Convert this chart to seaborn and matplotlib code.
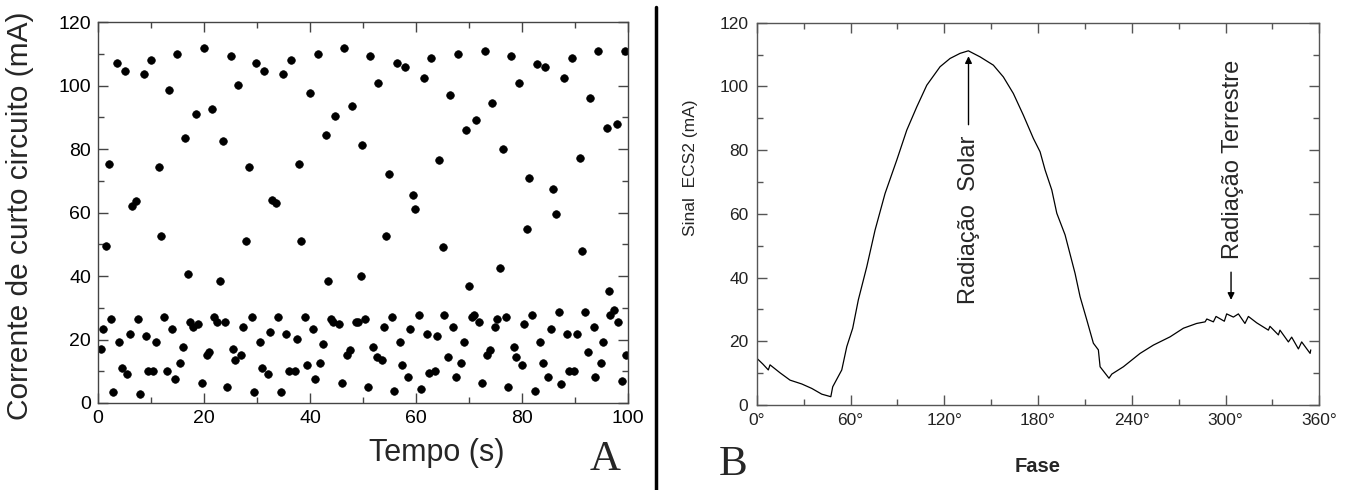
import matplotlib
matplotlib.use("Agg")
import matplotlib.pyplot as plt
from matplotlib.lines import Line2D
from matplotlib.ticker import MultipleLocator
import seaborn as sns
import pandas as pd

# Panel A: short-circuit current samples
tempo = [
    2.1, 3.5, 5.0, 6.5, 7.1, 8.6, 10.0, 11.5, 13.4, 14.9, 16.5, 18.5, 20.0, 21.5, 23.5, 25.0,
    26.5, 28.4, 29.9, 31.4, 32.8, 33.5, 34.9, 36.4, 37.9, 40.0, 41.5, 43.0, 44.8, 46.4, 47.9,
    49.9, 51.4, 52.9, 54.9, 56.5, 58.0, 59.4, 59.9, 61.5, 62.8, 64.4, 66.4, 67.9, 69.4, 71.4,
    73.0, 74.4, 76.4, 77.9, 79.4, 81.4, 82.9, 84.4, 85.8, 86.4, 87.9, 89.4, 90.9, 92.9, 94.4,
    96.0, 97.9, 99.4,
    1.5, 11.9, 16.9, 23.0, 27.9, 38.3, 43.3, 49.6, 54.3, 65.0, 70.0, 75.9, 81.0, 91.4, 96.4,
    0.5, 1.0, 2.4, 2.9, 4.0, 4.5, 5.5, 6.0, 7.5, 7.9, 9.0, 9.5, 10.4, 10.9, 12.5, 13.0, 14.0,
    14.5, 15.5, 16.0, 17.4, 18.0, 18.9, 19.6, 20.5, 21.0, 21.9, 22.5, 24.0, 24.4, 25.4, 25.9,
    26.9, 27.4, 29.1, 29.4, 30.6, 30.9, 32.1, 32.5, 33.9, 34.5, 35.5, 36.0, 37.1, 37.5, 39.0,
    39.4, 40.5, 40.9, 41.9, 42.4, 43.9, 44.4, 45.5, 46.0, 47.0, 47.5, 48.6, 49.1, 50.4, 51.0,
    51.9, 52.6, 53.5, 54.0, 55.5, 55.8, 57.0, 57.4, 58.4, 58.9, 60.5, 60.9, 62.0, 62.5, 63.5,
    63.9, 65.3, 66.0, 66.9, 67.5, 68.5, 69.0, 70.5, 70.9, 71.9, 72.5, 73.4, 74.0, 74.9, 75.3,
    76.9, 77.4, 78.4, 78.9, 80.0, 80.3, 81.9, 82.5, 83.4, 83.9, 85.0, 85.4, 87.0, 87.3, 88.4,
    88.8, 89.9, 90.4, 91.9, 92.4, 93.5, 93.8, 94.9, 95.3, 96.7, 97.4, 98.2, 98.9, 99.6,
]
corrente = [
    75.2, 107.3, 104.5, 62.0, 63.8, 103.8, 108.0, 74.4, 98.5, 110.1, 83.6, 91.0, 111.9, 92.8,
    82.7, 109.4, 100.2, 74.4, 107.3, 104.5, 63.9, 62.9, 103.8, 108.0, 75.2, 97.7, 110.1, 84.4,
    90.3, 111.9, 93.5, 81.2, 109.4, 100.9, 72.3, 107.3, 105.9, 65.6, 61.0, 102.4, 108.7, 76.5,
    97.0, 110.1, 86.1, 89.2, 111.0, 94.4, 80.2, 109.4, 100.9, 70.9, 106.7, 105.9, 67.3, 59.6,
    102.4, 108.7, 77.3, 96.0, 111.0, 86.8, 87.9, 111.0,
    49.4, 52.6, 40.8, 38.5, 51.1, 51.1, 38.5, 40.1, 52.6, 49.2, 36.9, 42.6, 54.7, 47.9, 35.2,
    16.9, 23.3, 26.5, 3.4, 19.2, 11.1, 9.1, 21.7, 26.5, 2.7, 21.0, 10.1, 10.1, 19.2, 27.0,
    10.1, 23.2, 7.6, 12.6, 17.7, 25.6, 24.0, 24.9, 6.3, 15.2, 16.1, 27.0, 25.6, 25.6, 5.1,
    16.9, 13.5, 15.1, 24.0, 27.0, 3.4, 19.2, 10.9, 9.1, 22.4, 27.0, 3.4, 21.7, 10.1, 10.1,
    20.1, 27.0, 11.9, 23.2, 7.6, 12.6, 18.6, 26.5, 25.6, 24.9, 6.3, 15.2, 16.8, 25.6, 25.6,
    26.5, 5.1, 17.7, 14.4, 13.5, 24.0, 27.0, 3.9, 19.2, 11.9, 8.3, 23.2, 27.7, 4.4, 21.7,
    9.5, 10.1, 21.0, 27.7, 14.4, 24.0, 8.3, 12.6, 19.2, 27.0, 27.7, 25.6, 6.3, 15.1, 16.8,
    24.0, 26.5, 27.0, 5.1, 17.7, 14.4, 11.9, 24.9, 27.7, 3.9, 19.2, 12.6, 8.3, 23.2, 28.6,
    5.9, 21.7, 10.1, 10.1, 21.7, 28.6, 16.1, 24.0, 8.3, 12.6, 19.2, 27.7, 29.4, 25.6, 6.8,
    15.1,
]

# Panel B: ECS2 signal versus phase
fase = [
    0, 4, 7.4, 8.5, 14.9, 21.3, 28.8, 35.2, 41.6, 47.4, 48.6, 54.4, 57.6, 61.4, 65.0, 70.4,
    75.7, 82.1, 89.6, 96.0, 102.4, 108.8, 117.3, 123.7, 130.1, 135.4, 142.9, 151.4, 157.8,
    164.2, 170.6, 177.0, 181.3, 184.5, 188.8, 192.0, 197.3, 203.7, 206.9, 211.2, 215.4,
    218.6, 219.7, 225.4, 227.2, 234.6, 245.3, 253.8, 264.5, 273.0, 281.5, 286.9, 288.0,
    292.2, 293.9, 299.2, 300.7, 305.0, 308.2, 312.4, 314.6, 319.9, 327.4, 328.4, 333.8,
    334.8, 340.2, 342.3, 346.6, 348.7, 354.1, 354.5,
]
sinal = [
    14.7, 12.8, 11.0, 12.6, 10.1, 7.8, 6.6, 5.2, 3.4, 2.6, 5.7, 11.0, 18.3, 24.1, 33.0, 43.4,
    54.9, 66.4, 76.9, 86.3, 93.6, 100.4, 106.2, 108.8, 110.4, 111.2, 109.3, 106.7, 103.0,
    97.8, 91.0, 83.7, 79.5, 73.8, 67.5, 60.2, 53.4, 41.3, 34.0, 26.7, 19.4, 17.3, 12.0, 8.4,
    9.7, 12.0, 16.2, 18.8, 21.4, 24.1, 25.6, 26.1, 27.0, 26.1, 27.8, 26.3, 28.6, 27.6, 28.6,
    25.6, 27.8, 25.8, 23.5, 24.7, 22.0, 23.5, 19.8, 21.3, 17.6, 19.8, 16.2, 17.3,
]
fase_ticks = [0, 60, 120, 180, 240, 300, 360]
fase_labels = [f"{d}°" for d in fase_ticks]

df_a = pd.DataFrame({"tempo": tempo, "corrente": corrente})
df_b = pd.DataFrame({"fase": fase, "sinal": sinal})

sns.set_style("ticks")
plt.rcParams["font.family"] = ["Liberation Sans", "DejaVu Sans"]

fig = plt.figure(figsize=(13.54, 4.9), dpi=100)
ax1 = fig.add_axes([0.0724, 0.1776, 0.3914, 0.777])
ax2 = fig.add_axes([0.5589, 0.1735, 0.4155, 0.780])

# --- panel A
sns.scatterplot(data=df_a, x="tempo", y="corrente", ax=ax1, color="black",
                s=30, edgecolor="black", linewidth=0.5, legend=False)
ax1.set_xlim(0, 100)
ax1.set_ylim(0, 120)
ax1.xaxis.set_major_locator(MultipleLocator(20))
ax1.xaxis.set_minor_locator(MultipleLocator(10))
ax1.yaxis.set_major_locator(MultipleLocator(20))
ax1.yaxis.set_minor_locator(MultipleLocator(10))
ax1.set_xlabel("")
ax1.set_ylabel("")
ax1.tick_params(which="both", direction="in", top=True, right=True,
                labelsize=14, colors="#444444", labelcolor="black", pad=5)
ax1.tick_params(which="major", length=7, width=1)
ax1.tick_params(which="minor", length=4, width=1)
for sp in ax1.spines.values():
    sp.set_color("#444444")
    sp.set_linewidth(1)

# --- panel B
sns.lineplot(data=df_b, x="fase", y="sinal", ax=ax2, color="black",
             linewidth=0.9, estimator=None, sort=False)
ax2.set_xlim(0, 360)
ax2.set_ylim(0, 120)
ax2.set_xticks(fase_ticks)
ax2.set_xticklabels(fase_labels)
ax2.xaxis.set_minor_locator(MultipleLocator(30))
ax2.yaxis.set_major_locator(MultipleLocator(20))
ax2.yaxis.set_minor_locator(MultipleLocator(10))
ax2.set_xlabel("")
ax2.set_ylabel("")
ax2.tick_params(which="both", direction="in", top=True, right=True,
                labelsize=12.5, colors="#555555", labelcolor="#222222", pad=6)
ax2.tick_params(which="major", length=7, width=1)
ax2.tick_params(which="minor", length=4, width=1)
for sp in ax2.spines.values():
    sp.set_color("#555555")
    sp.set_linewidth(1)

arrow = dict(arrowstyle="-|>", color="black", lw=1, mutation_scale=10, shrinkA=0, shrinkB=0)
ax2.annotate("", xy=(135.5, 109.5), xytext=(135.5, 88), arrowprops=arrow)
ax2.text(135.5, 58, "Radiação  Solar", rotation=90, ha="center", va="center", fontsize=17)
ax2.annotate("", xy=(303.5, 33), xytext=(303.5, 41.7), arrowprops=arrow)
ax2.text(305, 77, "Radiação Terrestre", rotation=90, ha="center", va="center", fontsize=17)

# figure-level labels
fig.text(20 / 1354, 1 - 216 / 490, "Corrente de curto circuito (mA)", rotation=90,
         ha="center", va="center", fontsize=21.5)
fig.text(437 / 1354, 1 - 461 / 490, "Tempo (s)", ha="center", va="baseline", fontsize=22)
fig.text(605 / 1354, 1 - 470 / 490, "A", ha="center", va="baseline", fontsize=31,
         family=["Liberation Serif", "DejaVu Serif"])
fig.text(733 / 1354, 1 - 475 / 490, "B", ha="center", va="baseline", fontsize=31,
         family=["Liberation Serif", "DejaVu Serif"])
fig.text(690.7 / 1354, 1 - 167.5 / 490, "Sinal  ECS2 (mA)", rotation=90,
         ha="center", va="center", fontsize=12.5)
fig.text(1038 / 1354, 1 - 472 / 490, "Fase", ha="center", va="baseline", fontsize=14.5,
         fontweight="bold")

fig.add_artist(Line2D([656 / 1354, 656 / 1354], [0, 1 - 7 / 490], color="black", lw=2.5))

fig.savefig("out.png", dpi=100)
